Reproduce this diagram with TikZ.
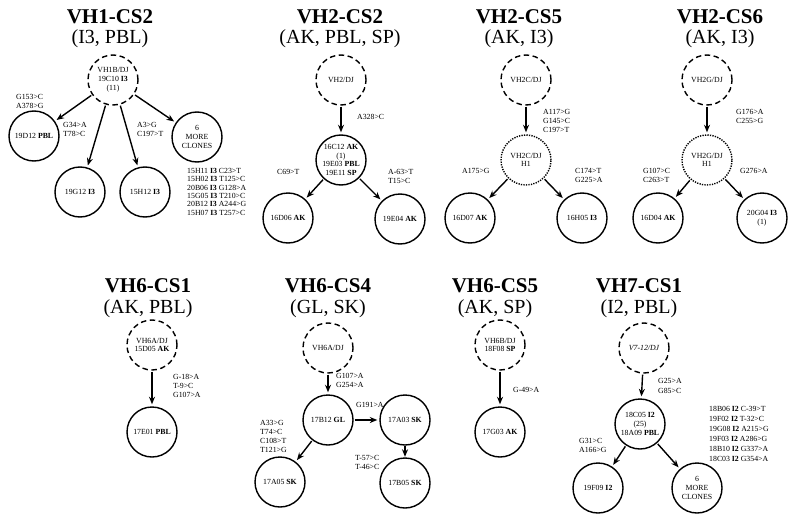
\documentclass[tikz,border=0pt]{standalone}
\usepackage{fontspec}
\setmainfont{Liberation Serif}
\usetikzlibrary{arrows.meta}
\tikzset{
  ttl/.style={font=\fontsize{21}{21}\selectfont\bfseries, anchor=base, inner sep=0pt},
  sub/.style={font=\fontsize{20}{20}\selectfont, anchor=base, inner sep=0pt},
  clone/.style={circle, draw, line width=1.4pt, minimum size=50pt, inner sep=0pt, align=center, font=\fontsize{7.8}{8.8}\selectfont},
  germ/.style={clone, dash pattern=on 5.5pt off 3.5pt},
  inter/.style={clone, dash pattern=on 1.3pt off 1.2pt},
  mut/.style={font=\fontsize{7.8}{9}\selectfont, align=left, anchor=north west, inner sep=0pt},
  arr/.style={-{Stealth[length=7.5pt,width=6pt]}, line width=1.4pt, shorten <=1pt, shorten >=2pt},
}
\begin{document}
\begin{tikzpicture}[x=1pt,y=-1pt]
\useasboundingbox (0,0) rectangle (800,519);
% ---------- VH1-CS2
\node[ttl] (t1) at (110,23.5) {VH1-CS2};
\node[sub] (s1) at (110,44) {(I3, PBL)};
\node[germ] (a0) at (113,80) {VH1B/DJ\\19C10 \textbf{I3}\\(11)};
\node[clone] (a1) at (34,136) {19D12 \textbf{PBL}};
\node[clone] (a2) at (80,192) {19G12 \textbf{I3}};
\node[clone] (a3) at (145,192) {15H12 \textbf{I3}};
\node[clone] (a4) at (197,137) {6\\MORE\\CLONES};
\draw[arr] (a0) -- (a1);
\draw[arr] (a0) -- (a2);
\draw[arr] (a0) -- (a3);
\draw[arr] (a0) -- (a4);
\node[mut] (ma1) at (16,94) {G153>C\\A378>G};
\node[mut] (ma2) at (63,122) {G34>A\\T78>C};
\node[mut] (ma3) at (137,122) {A3>G\\C197>T};
\node[mut, font=\fontsize{7.8}{8.4}\selectfont] (la) at (187,168) {15H11 \textbf{I3} C23>T\\15H02 \textbf{I3} T125>C\\20B06 \textbf{I3} G128>A\\15G05 \textbf{I3} T210>C\\20B12 \textbf{I3} A244>G\\15H07 \textbf{I3} T257>C};
% ---------- VH2-CS2
\node[ttl] (t2) at (340,23.5) {VH2-CS2};
\node[sub] (s2) at (340,44) {(AK, PBL, SP)};
\node[germ] (b0) at (341,80) {VH2/DJ};
\node[clone] (b1) at (341,160) {16C12 \textbf{AK}\\(1)\\19E03 \textbf{PBL}\\19E11 \textbf{SP}};
\node[clone] (b2) at (288,218) {16D06 \textbf{AK}};
\node[clone] (b3) at (400,219) {19E04 \textbf{AK}};
\draw[arr] (b0) -- (b1);
\draw[arr] (b1) -- (b2);
\draw[arr] (b1) -- (b3);
\node[mut] (mb1) at (357,114) {A328>C};
\node[mut] (mb2) at (277,169) {C69>T};
\node[mut] (mb3) at (388,169) {A-63>T\\T15>C};
% ---------- VH2-CS5
\node[ttl] (t3) at (519,23.5) {VH2-CS5};
\node[sub] (s3) at (519,44) {(AK, I3)};
\node[germ] (c0) at (526,80) {VH2C/DJ};
\node[inter] (c1) at (526,160) {VH2C/DJ\\H1};
\node[clone] (c2) at (470,218) {16D07 \textbf{AK}};
\node[clone] (c3) at (582,218) {16H05 \textbf{I3}};
\draw[arr] (c0) -- (c1);
\draw[arr] (c1) -- (c2);
\draw[arr] (c1) -- (c3);
\node[mut] (mc1) at (543,109) {A117>G\\G145>C\\C197>T};
\node[mut] (mc2) at (462,168) {A175>G};
\node[mut] (mc3) at (575,168) {C174>T\\G225>A};
% ---------- VH2-CS6
\node[ttl] (t4) at (720,23.5) {VH2-CS6};
\node[sub] (s4) at (720,44) {(AK, I3)};
\node[germ] (d0) at (707,80) {VH2G/DJ};
\node[inter] (d1) at (707,160) {VH2G/DJ\\H1};
\node[clone] (d2) at (658,218) {16D04 \textbf{AK}};
\node[clone] (d3) at (762,218) {20G04 \textbf{I3}\\(1)};
\draw[arr] (d0) -- (d1);
\draw[arr] (d1) -- (d2);
\draw[arr] (d1) -- (d3);
\node[mut] (md1) at (736,109) {G176>A\\C255>G};
\node[mut] (md2) at (643,168) {G107>C\\C263>T};
\node[mut] (md3) at (740,168) {G276>A};
% ---------- VH6-CS1
\node[ttl] (t5) at (148,292) {VH6-CS1};
\node[sub] (s5) at (148,313) {(AK, PBL)};
\node[germ] (e0) at (152,345) {VH6A/DJ\\15D05 \textbf{AK}};
\node[clone] (e1) at (152,432) {17E01 \textbf{PBL}};
\draw[arr] (e0) -- (e1);
\node[mut] (me1) at (173,374) {G-18>A\\T-9>C\\G107>A};
% ---------- VH6-CS4
\node[ttl] (t6) at (328,292) {VH6-CS4};
\node[sub] (s6) at (328,313) {(GL, SK)};
\node[germ] (f0) at (328,348) {VH6A/DJ};
\node[clone] (f1) at (328,420) {17B12 \textbf{GL}};
\node[clone] (f2) at (405,420) {17A03 \textbf{SK}};
\node[clone] (f3) at (405,483) {17B05 \textbf{SK}};
\node[clone] (f4) at (280,482) {17A05 \textbf{SK}};
\draw[arr] (f0) -- (f1);
\draw[arr] (f1) -- (f2);
\draw[arr, shorten <=0pt, shorten >=0.5pt] (f2) -- (f3);
\draw[arr] (f1) -- (f4);
\node[mut] (mf1) at (336,373) {G107>A\\G254>A};
\node[mut] (mf2) at (356,402) {G191>A};
\node[mut] (mf3) at (355,455) {T-57>C\\T-46>C};
\node[mut] (mf4) at (260,420) {A33>G\\T74>C\\C108>T\\T121>G};
% ---------- VH6-CS5
\node[ttl] (t7) at (495,292) {VH6-CS5};
\node[sub] (s7) at (495,313) {(AK, SP)};
\node[germ] (g0) at (500,345) {VH6B/DJ\\18F08 \textbf{SP}};
\node[clone] (g1) at (500,432) {17G03 \textbf{AK}};
\draw[arr] (g0) -- (g1);
\node[mut] (mg1) at (513,387) {G-49>A};
% ---------- VH7-CS1
\node[ttl] (t8) at (639,292) {VH7-CS1};
\node[sub] (s8) at (639,313) {(I2, PBL)};
\node[germ] (h0) at (644,348) {\itshape V7-12/DJ};
\node[clone] (h1) at (640,424) {18C05 \textbf{I2}\\(25)\\18A09 \textbf{PBL}};
\node[clone] (h2) at (598,488) {19F09 \textbf{I2}};
\node[clone] (h3) at (697,488) {6\\MORE\\CLONES};
\draw[arr] (h0) -- (h1);
\draw[arr] (h1) -- (h2);
\draw[arr] (h1) -- (h3);
\node[mut, font=\fontsize{7.8}{10}\selectfont] (mh1) at (658,378) {G25>A\\G85>C};
\node[mut] (mh2) at (579,438) {G31>C\\A166>G};
\node[mut, font=\fontsize{7.8}{10}\selectfont] (lh) at (709,406) {18B06 \textbf{I2} C-39>T\\19F02 \textbf{I2} T-32>C\\19G08 \textbf{I2} A215>G\\19F03 \textbf{I2} A286>G\\18B10 \textbf{I2} G337>A\\18C03 \textbf{I2} G354>A};
\end{tikzpicture}
\end{document}
